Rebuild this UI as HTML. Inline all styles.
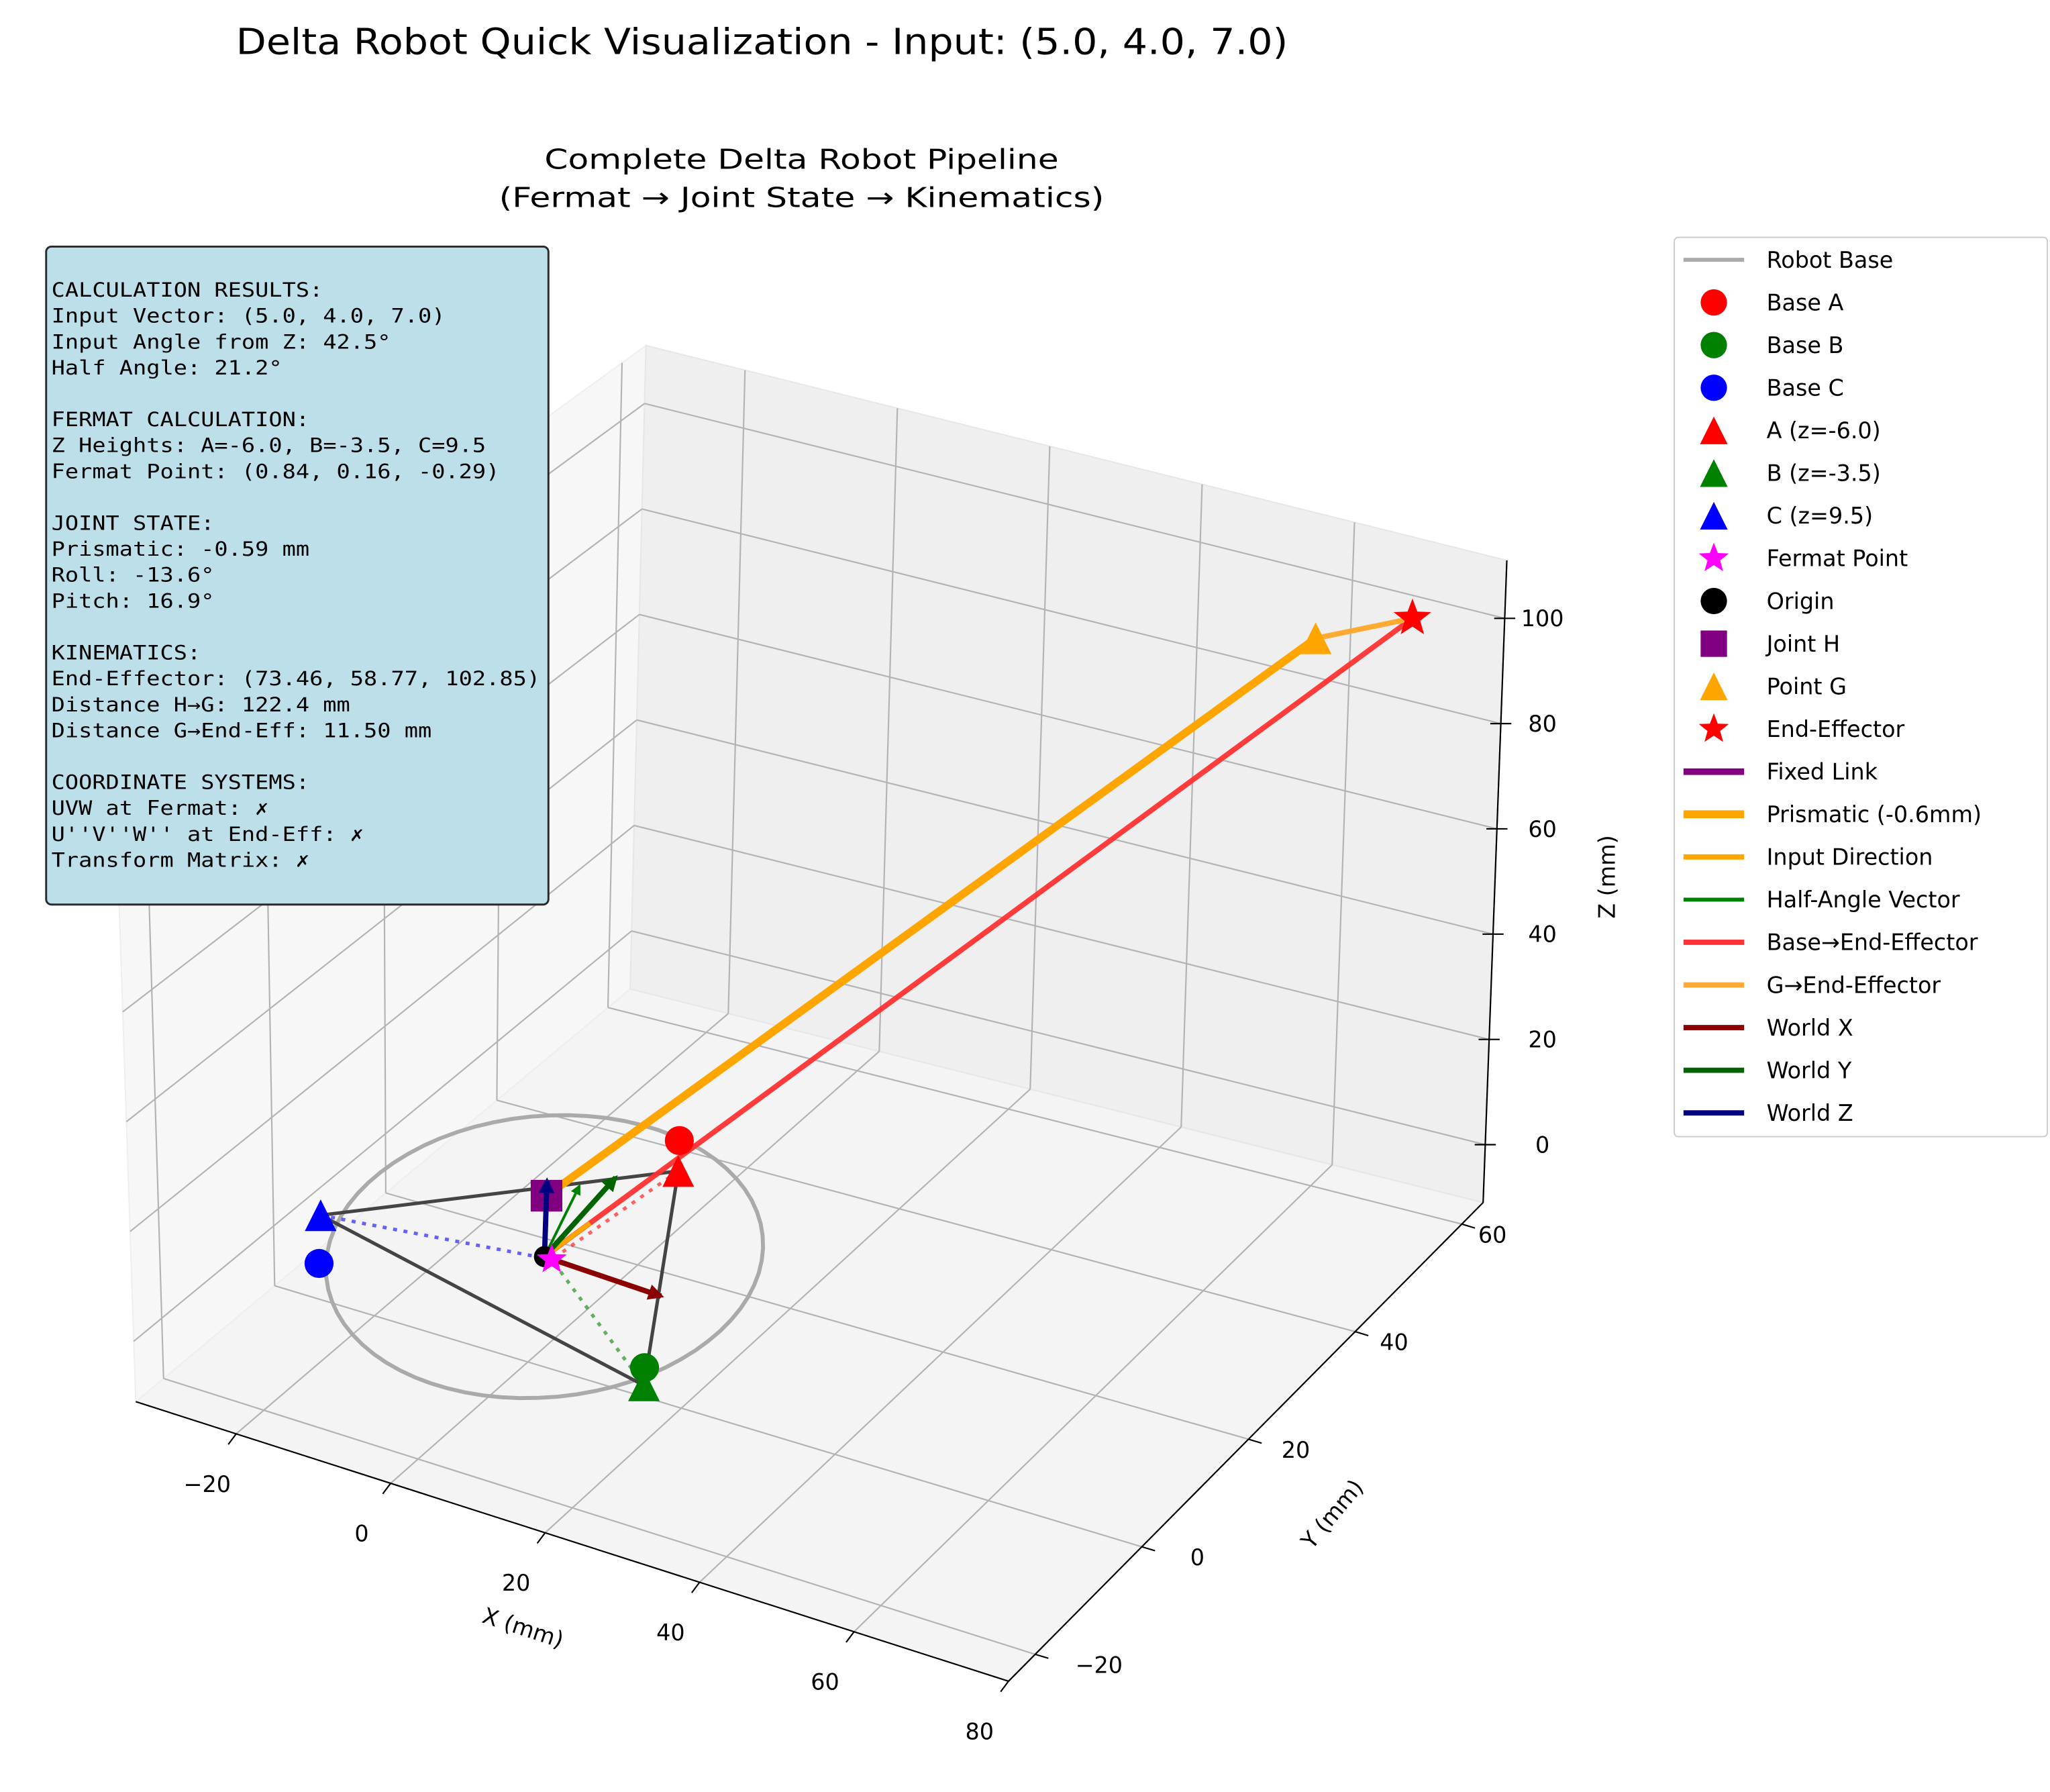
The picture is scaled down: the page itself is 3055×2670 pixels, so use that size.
<!DOCTYPE html>
<html><head><meta charset="utf-8">
<style>
html,body{margin:0;padding:0;background:#fff;}
svg{display:block;font-family:"DejaVu Sans","Liberation Sans",sans-serif;}
.mono{font-family:"DejaVu Sans Mono","Liberation Mono",monospace;}
</style></head>
<body>
<svg id="fig" width="3055" height="2670" viewBox="0 0 1555 1359" xmlns="http://www.w3.org/2000/svg">
<defs>
<marker id="ahX" viewBox="0 0 10 10" refX="8" refY="5" markerWidth="3" markerHeight="3" orient="auto"><path d="M0,0 L10,5 L0,10 z" fill="#8b0000"/></marker>
<marker id="ahY" viewBox="0 0 10 10" refX="8" refY="5" markerWidth="3" markerHeight="3" orient="auto"><path d="M0,0 L10,5 L0,10 z" fill="#006400"/></marker>
<marker id="ahZ" viewBox="0 0 10 10" refX="8" refY="5" markerWidth="3" markerHeight="3" orient="auto"><path d="M0,0 L10,5 L0,10 z" fill="#000080"/></marker>
<marker id="ahG" viewBox="0 0 10 10" refX="8" refY="5" markerWidth="4" markerHeight="4" orient="auto"><path d="M0,0 L10,5 L0,10 z" fill="green"/></marker>
</defs>
<text x="578" y="41" font-size="27" text-anchor="middle" textLength="798" lengthAdjust="spacingAndGlyphs">Delta Robot Quick Visualization - Input: (5.0, 4.0, 7.0)</text>
<text x="608" y="128" font-size="21" text-anchor="middle" textLength="390" lengthAdjust="spacingAndGlyphs">Complete Delta Robot Pipeline</text>
<text x="608" y="157" font-size="21" text-anchor="middle" textLength="459" lengthAdjust="spacingAndGlyphs">(Fermat → Joint State → Kinematics)</text>
<g id="panes"></g>
<g id="grid"></g>
<g id="axes"></g>
<g id="marks"></g>
<g id="infobox"></g>
<g id="legend"></g>
</svg>
<script>
// ---- data ----
const baseX=[3.0,19.7,-21.6];
const baseY=[23.5,-11.2,-12.1];
const baseZ=[-6.0,-3.5,9.5];
const baseColors=['red','green','blue'];
const fermatPt=[0.84,0.16,-0.29];
const jointH=[0,0,12];
const pointG=[67.5,48,107];
const endEff=[73.46,58.77,102.85];
const inputVec=[5,4,7];
const inputScale=0.77;
const halfVec=[2.8,2.3,13];
const worldLen=[15,15,15];
const baseRadius=24;
const xTicks=[-20,0,20,40,60,80];
const yTicks=[-20,0,20,40,60];
const zTicks=[0,20,40,60,80,100];
const xLim=[-33,80], yLim=[-25,64], zLim=[-11,111];

const NS='http://www.w3.org/2000/svg';
function mk(parent,tag,attrs){const e=document.createElementNS(NS,tag);for(const k in attrs)e.setAttribute(k,attrs[k]);parent.appendChild(e);return e;}
const O=[413,953],EX=[5.9,2.0],EY=[3.6,-4.0],EZ=[0.13,-3.85];
function P(x,y,z){return [O[0]+x*EX[0]+y*EY[0]+z*EZ[0],O[1]+x*EX[1]+y*EY[1]+z*EZ[1]];}
const F1=[103,1063],FR=[765,1275],BR=[1125,912],BL=[478,750],BLT=[490,262],BRT=[1143,425],TL=[86,555];
function lerp(a,b,t){return [a[0]+(b[0]-a[0])*t,a[1]+(b[1]-a[1])*t];}
function fx(v){return (v-xLim[0])/(xLim[1]-xLim[0]);}
function fy(v){return (v-yLim[0])/(yLim[1]-yLim[0]);}
function fz(v){return (v-zLim[0])/(zLim[1]-zLim[0]);}
const panes=document.getElementById('panes');
let e;
e=mk(panes,'polygon',{points:[F1,FR,BR,BL].map(p=>p.join(',')).join(' '),fill:'#f4f4f4',stroke:'#f0f0f0'});

e=mk(panes,'polygon',{points:[F1,BL,BLT,TL].map(p=>p.join(',')).join(' '),fill:'#f7f7f7',stroke:'#eeeeee'});

e=mk(panes,'polygon',{points:[BL,BR,BRT,BLT].map(p=>p.join(',')).join(' '),fill:'#efefef',stroke:'#e6e6e6'});

const grid=document.getElementById('grid');
function gl(a,b,name){const l=mk(grid,'line',{x1:a[0],y1:a[1],x2:b[0],y2:b[1],stroke:'#b3b3b3','stroke-width':1.1});}
xTicks.forEach(v=>{const t=fx(v);const a=lerp(F1,FR,t),b=lerp(BL,BR,t),c=lerp(BLT,BRT,t);gl(a,b,'x-gridline-floor');gl(b,c,'x-gridline-back');});
yTicks.forEach(v=>{const t=fy(v);const a=lerp(FR,BR,t),b=lerp(F1,BL,t),c=lerp(TL,BLT,t);gl(a,b,'y-gridline-floor');gl(b,c,'y-gridline-left');});
zTicks.forEach(v=>{const t=fz(v);const a=lerp(F1,TL,t),b=lerp(BL,BLT,t),c=lerp(BR,BRT,t);gl(a,b,'z-gridline-left');gl(b,c,'z-gridline-back');});
const ax=document.getElementById('axes');
function al(a,b,name){const l=mk(ax,'line',{x1:a[0],y1:a[1],x2:b[0],y2:b[1],stroke:'#000','stroke-width':1.1});}
function tx(x,y,s,name,extra){const t=mk(ax,'text',Object.assign({x:x,y:y,'font-size':17,'text-anchor':'middle'},extra||{}));t.textContent=s;return t;}
al(F1,FR,'x-axis-line');al(FR,BR,'y-axis-line');al(BR,BRT,'z-axis-line');
xTicks.forEach(v=>{const p=lerp(F1,FR,fx(v));al(p,[p[0]-6,p[1]+8],'x-tick');tx(p[0]-22,p[1]+44,v<0?'−'+(-v):String(v),'x-tick-label');});
yTicks.forEach(v=>{const t=fy(v);const p=lerp(FR,BR,t);al(p,[p[0]+10,p[1]+3],'y-tick');tx(p[0]+50-28*t,p[1]+14,v<0?'−'+(-v):String(v),'y-tick-label');});
zTicks.forEach(v=>{const p=lerp(BR,BRT,fz(v));al([p[0]-8,p[1]],[p[0]+8,p[1]],'z-tick');tx(1170,p[1]+6,String(v),'z-tick-label');});
tx(395,1240,'X (mm)','x-axis-title',{transform:'rotate(18 395 1240)'});
tx(1015,1152,'Y (mm)','y-axis-title',{transform:'rotate(-50 1015 1152)'});
tx(1225,665,'Z (mm)','z-axis-title',{transform:'rotate(-90 1225 665)'});
const mg=document.getElementById('marks');
function line(pts,attrs,name){const d=pts.map((p,i)=>(i?'L':'M')+p[0].toFixed(1)+','+p[1].toFixed(1)).join(' ');const l=mk(mg,'path',Object.assign({d:d,fill:'none','stroke-linecap':'butt'},attrs));return l;}
function circ(p,r,fill,name){const c=mk(mg,'circle',{cx:p[0],cy:p[1],r:r,fill:fill});}
function tri(g,p,s,fill){return mk(g,'path',{d:`M${p[0]},${p[1]-s} L${p[0]+s},${p[1]+s} L${p[0]-s},${p[1]+s} Z`,fill:fill});}
function star(g,p,R,fill){let d='';for(let i=0;i<10;i++){const r=i%2?R*0.42:R;const a=-Math.PI/2+i*Math.PI/5;d+=(i?'L':'M')+(p[0]+r*Math.cos(a)).toFixed(1)+','+(p[1]+r*Math.sin(a)).toFixed(1);}return mk(g,'path',{d:d+'Z',fill:fill});}
const cpts=[];for(let i=0;i<=72;i++){const a=i/72*2*Math.PI;cpts.push(P(baseRadius*Math.cos(a),baseRadius*Math.sin(a),0));}
line(cpts,{stroke:'#aaaaaa','stroke-width':3},'robot-base-circle');
const triPts=baseX.map((x,i)=>P(x,baseY[i],baseZ[i]));
line([triPts[0],triPts[1],triPts[2],triPts[0]],{stroke:'#444','stroke-width':2.6,'stroke-linejoin':'round'},'height-triangle');
const fP=P(fermatPt[0],fermatPt[1],fermatPt[2]);
triPts.forEach((p,i)=>line([p,fP],{stroke:baseColors[i],'stroke-width':2.6,'stroke-dasharray':'3,5',opacity:0.6},'fermat-dotted-'+'abc'[i]));
const o=P(0,0,0),H=P(jointH[0],jointH[1],jointH[2]),G=P(pointG[0],pointG[1],pointG[2]),EE=P(endEff[0],endEff[1],endEff[2]);
line([o,EE],{stroke:'#ff3030','stroke-width':4,opacity:0.95},'base-to-end-effector');
line([H,G],{stroke:'orange','stroke-width':6},'prismatic-link');
line([G,EE],{stroke:'#ffaa33','stroke-width':4},'g-to-end-effector');
line([o,P(inputVec[0]*inputScale,inputVec[1]*inputScale,inputVec[2]*inputScale)],{stroke:'orange','stroke-width':3.5},'input-direction');
line([o,P(halfVec[0],halfVec[1],halfVec[2])],{stroke:'green','stroke-width':2,'marker-end':'url(#ahG)'},'half-angle-vector');
line([o,P(worldLen[0],0,0)],{stroke:'#8b0000','stroke-width':4,'marker-end':'url(#ahX)'},'world-x-arrow');
line([o,P(0,worldLen[1],0)],{stroke:'#006400','stroke-width':4,'marker-end':'url(#ahY)'},'world-y-arrow');
line([o,H],{stroke:'purple','stroke-width':3},'fixed-link');
baseX.forEach((x,i)=>{circ(P(x,baseY[i],0),11,baseColors[i],'base-'+'abc'[i]+'-marker');const t=tri(mg,triPts[i],12,baseColors[i]);});
const sq=mk(mg,'rect',{x:H[0]-12,y:H[1]-12,width:24,height:24,fill:'purple'});
line([o,P(0,0,worldLen[2])],{stroke:'#000080','stroke-width':4,'marker-end':'url(#ahZ)'},'world-z-arrow');
circ(o,8,'#000','origin-marker');
let s=star(mg,fP,12,'magenta');
s=tri(mg,G,12,'orange');
s=star(mg,EE,15,'red');
const ib=document.getElementById('infobox');
const infoLines=['CALCULATION RESULTS:','Input Vector: (5.0, 4.0, 7.0)','Input Angle from Z: 42.5°','Half Angle: 21.2°','','FERMAT CALCULATION:','Z Heights: A=-6.0, B=-3.5, C=9.5','Fermat Point: (0.84, 0.16, -0.29)','','JOINT STATE:','Prismatic: -0.59 mm','Roll: -13.6°','Pitch: 16.9°','','KINEMATICS:','End-Effector: (73.46, 58.77, 102.85)','Distance H→G: 122.4 mm','Distance G→End-Eff: 11.50 mm','','COORDINATE SYSTEMS:','UVW at Fermat: ✗',"U''V''W'' at End-Eff: ✗",'Transform Matrix: ✗'];
let r=mk(ib,'rect',{x:35,y:187,width:381,height:499,rx:4,fill:'#bddfe9',stroke:'#2a2a2a','stroke-width':1.5});

infoLines.forEach((t,i)=>{if(!t)return;const el=mk(ib,'text',{x:39,y:225+i*19.65,'font-size':15,class:'mono',textLength:(t.length*10.3).toFixed(1),lengthAdjust:'spacingAndGlyphs'});el.textContent=t;});
const lg=document.getElementById('legend');
r=mk(lg,'rect',{x:1270,y:180,width:283,height:682,rx:3,fill:'#fff',stroke:'#cccccc','stroke-width':1});

const legItems=[['Robot Base','line','#aaaaaa',3],['Base A','circle','red'],['Base B','circle','green'],['Base C','circle','blue'],['A (z=-6.0)','tri','red'],['B (z=-3.5)','tri','green'],['C (z=9.5)','tri','blue'],['Fermat Point','star','magenta'],['Origin','circle','black'],['Joint H','square','purple'],['Point G','tri','orange'],['End-Effector','star','red'],['Fixed Link','line','purple',5],['Prismatic (-0.6mm)','line','orange',6],['Input Direction','line','orange',4],['Half-Angle Vector','line','green',3],['Base→End-Effector','line','#ff3333',4],['G→End-Effector','line','#ffaa33',4],['World X','line','#8b0000',4],['World Y','line','#006400',4],['World Z','line','#000080',4]];
legItems.forEach((it,i)=>{const y=197+i*32.35;const g=mk(lg,'g',{});
 const cx=1300;
 if(it[1]==='line')mk(g,'line',{x1:1277,y1:y,x2:1323,y2:y,stroke:it[2],'stroke-width':it[3]});
 else if(it[1]==='circle')mk(g,'circle',{cx:cx,cy:y,r:10,fill:it[2]});
 else if(it[1]==='tri')tri(g,[cx,y],10.5,it[2]);
 else if(it[1]==='star')star(g,[cx,y],12,it[2]);
 else mk(g,'rect',{x:cx-10,y:y-10,width:20,height:20,fill:it[2]});
 const t=mk(g,'text',{x:1340,y:y+6,'font-size':17});t.textContent=it[0];});
</script>
</body></html>
